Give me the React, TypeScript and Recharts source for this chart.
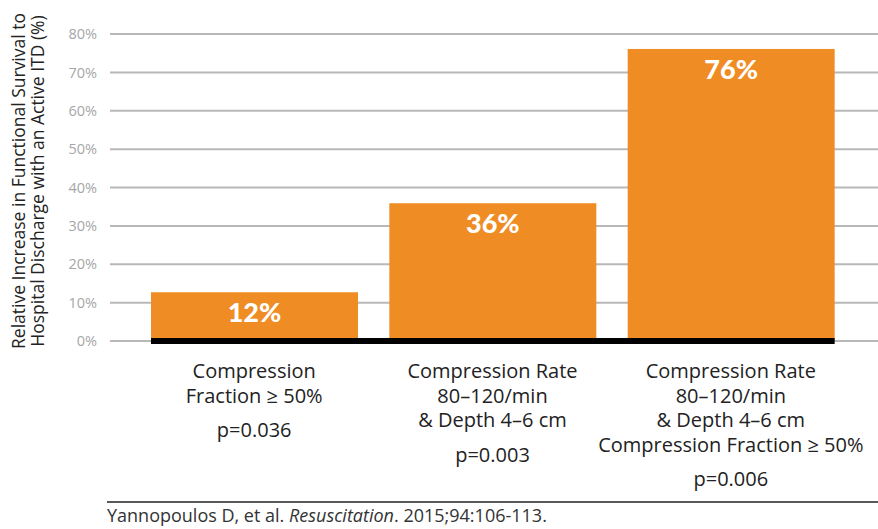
import React from "react";
import { BarChart, Bar, XAxis, YAxis, CartesianGrid, LabelList, ReferenceLine } from "recharts";

const categories = ["c1", "c2", "c3"];
const categoryLines = [
  ["Compression", "Fraction \u2265 50%"],
  ["Compression Rate", "80\u2013120/min", "& Depth 4\u20136 cm"],
  ["Compression Rate", "80\u2013120/min", "& Depth 4\u20136 cm", "Compression Fraction \u2265 50%"],
];
const pValues = ["p=0.036", "p=0.003", "p=0.006"];
const values = [12.7, 35.9, 76.1];
const valueLabels = ["12%", "36%", "76%"];
const yTicks = [0, 10, 20, 30, 40, 50, 60, 70, 80];
const yLabelLines = ["Relative Increase in Functional Survival to", "Hospital Discharge with an Active ITD (%)"];
const footAuthor = "Yannopoulos D, et al. ";
const footJournal = "Resuscitation";
const footRest = ". 2015;94:106-113.";

const data = categories.map((c, i) => ({ key: c, value: values[i], label: valueLabels[i] }));

const FONT = "'Open Sans', Lato, sans-serif";
const BOLDFONT = "Lato, 'Open Sans', sans-serif";
const ORANGE = "#F08C24";

function CategoryTick(props: any) {
  const { x, y, payload } = props;
  const i = categories.indexOf(payload.value);
  const lines = categoryLines[i] || [];
  const first = 378 - y;
  const step = 24.5;
  return (
    <g>
      {lines.map((l, k) => (
        <text key={k} x={x} y={y + first + k * step} textAnchor="middle" fontSize={20} fill="#222" fontFamily={FONT}>
          {l}
        </text>
      ))}
      <text x={x} y={y + first + (lines.length - 1) * step + 34.5} textAnchor="middle" fontSize={20} fill="#222" fontFamily={FONT}>
        {pValues[i]}
      </text>
    </g>
  );
}

function BarShape(props: any) {
  const { x, y, width, height } = props;
  const bottom = y + height;
  return (
    <g>
      <rect x={x} y={y} width={width} height={height} fill={ORANGE} />
      <rect x={x} y={bottom - 3} width={width} height={6} fill="#000" />
    </g>
  );
}

function YLabel() {
  return (
    <g>
      <text x={25} y={181} transform="rotate(-90 25 181)" textAnchor="middle" fontSize={17.5} fill="#222" fontFamily={FONT}>
        {yLabelLines[0]}
      </text>
      <text x={44} y={181} transform="rotate(-90 44 181)" textAnchor="middle" fontSize={17.5} fill="#222" fontFamily={FONT}>
        {yLabelLines[1]}
      </text>
    </g>
  );
}

export default function App() {
  return (
    <div style={{ position: "absolute", left: 0, top: 0, width: 878, height: 529, background: "#fff", fontFamily: FONT }}>
      <BarChart width={878} height={529} data={data} margin={{ top: 34, right: 0, bottom: 38, left: 0 }}>
        <CartesianGrid vertical={false} stroke="#b8b8b8" strokeWidth={2} />
        <XAxis
          dataKey="key"
          axisLine={false}
          tickLine={false}
          height={150}
          padding={{ left: 25, right: 28 }}
          tick={<CategoryTick />}
          interval={0}
        />
        <YAxis
          domain={[0, 80]}
          ticks={yTicks}
          width={110}
          axisLine={false}
          tickLine={false}
          tickMargin={7}
          tickFormatter={(v: number) => `${v}%`}
          tick={{ fill: "#a6a6a6", fontSize: 14.5, fontFamily: FONT }}
          label={{ content: () => <YLabel /> }}
        />
        <ReferenceLine segment={[{ x: "c1", y: 0 }, { x: "c3", y: 0 }]} stroke="#000" strokeWidth={6} />
        <Bar dataKey="value" barSize={207} isAnimationActive={false} shape={<BarShape />}>
          <LabelList dataKey="label" position="insideTop" offset={11} fill="#fff" fontSize={27} fontWeight={900} fontFamily={BOLDFONT} />
        </Bar>
      </BarChart>
      <svg width={878} height={529} style={{ position: "absolute", left: 0, top: 0, pointerEvents: "none" }}>
        <line x1={107} x2={878} y1={502} y2={502} stroke="#222" strokeWidth={1.5} />
        <text x={107} y={522} fontSize={18} fill="#333" fontFamily={FONT}>
          {footAuthor}
          <tspan fontStyle="italic">{footJournal}</tspan>
          {footRest}
        </text>
      </svg>
    </div>
  );
}
